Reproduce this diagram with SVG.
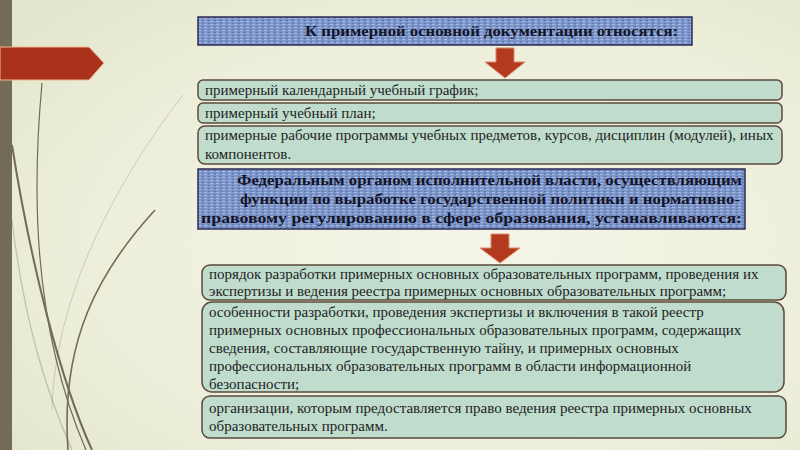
<svg xmlns="http://www.w3.org/2000/svg" width="800" height="450" viewBox="0 0 800 450">
<defs>
<radialGradient id="bg" cx="0.6" cy="0.55" r="0.75">
<stop offset="0" stop-color="#f4f5e8"/>
<stop offset="0.7" stop-color="#eceed9"/>
<stop offset="1" stop-color="#e3e6cc"/>
</radialGradient>
<pattern id="tex" width="6" height="3" patternUnits="userSpaceOnUse">
<rect width="6" height="3" fill="#7b94c9"/>
<rect x="0" y="0" width="3" height="1" fill="#a6b8dd"/>
<rect x="4" y="2" width="2" height="1" fill="#5f78b0"/>
</pattern>
<style>
.hdr{fill:url(#tex);stroke:#2d2b55;stroke-width:1.5}
.box{fill:#bfdccd;stroke:#5b4a3c;stroke-width:1.5}
.t{font-size:15px;fill:#1e1e1e}
.b{font-size:15px;font-weight:bold;fill:#141428}
.arr{fill:#b33a1e;stroke:#d98a6a;stroke-width:1}
.crv{fill:none;stroke:#736b55}
</style>
</defs>
<rect width="800" height="450" fill="url(#bg)"/>
<g id="decor">
<path class="crv" stroke-width="1.2" d="M42,83 C33,180 30,320 86,450"/>
<path class="crv" stroke-width="2" d="M12,145 C30,260 60,380 92,450"/>
<path class="crv" stroke-width="1.6" d="M155,210 C100,270 60,340 68,450"/>
<path class="crv" stroke-width="0.8" stroke-opacity="0.35" d="M183,95 C110,190 55,300 52,410"/>
<path class="crv" stroke-width="1.2" stroke-opacity="0.35" d="M12,220 C25,330 50,400 72,450"/>
<rect x="0" y="0" width="12" height="450" fill="#736b55"/>
<path d="M0,47 L89,47 L104,63 L89,80 L0,80 Z" fill="#aa321b" stroke="#f0b890" stroke-width="1"/>
</g>
<g font-family="Liberation Serif, Times New Roman, serif">
<g id="header1">
<rect class="hdr" x="198" y="17" width="494" height="28"/>
<text class="b" x="305" y="36" textLength="373" lengthAdjust="spacingAndGlyphs">К примерной основной документации относятся:</text>
</g>
<g id="connectors">
<path class="arr" d="M496,48 L514,48 L514,62 L525,62 L505,78 L485,62 L496,62 Z"/>
<path class="arr" d="M491,234 L509,234 L509,248 L520,248 L500,263 L480,248 L491,248 Z"/>
</g>
<g id="item1">
<rect class="box" x="198" y="80" width="584" height="20" rx="5"/>
<text class="t" x="205" y="95">примерный календарный учебный график;</text>
</g>
<g id="item2">
<rect class="box" x="198" y="103" width="584" height="20" rx="5"/>
<text class="t" x="205" y="118">примерный учебный план;</text>
</g>
<g id="item3">
<rect class="box" x="198" y="126" width="584" height="38" rx="7"/>
<text class="t" x="205" y="140">примерные рабочие программы учебных предметов, курсов, дисциплин (модулей), иных</text>
<text class="t" x="205" y="159">компонентов.</text>
</g>
<g id="header2">
<rect class="hdr" x="198" y="169" width="547" height="60"/>
<text class="b" x="237" y="185" textLength="505" lengthAdjust="spacingAndGlyphs">Федеральным органом исполнительной власти, осуществляющим</text>
<text class="b" x="240" y="204" textLength="500" lengthAdjust="spacingAndGlyphs">функции по выработке государственной политики и нормативно-</text>
<text class="b" x="201" y="223" textLength="541" lengthAdjust="spacingAndGlyphs">правовому регулированию в сфере образования, устанавливаются:</text>
</g>
<g id="item4">
<rect class="box" x="202" y="265" width="584" height="35" rx="8"/>
<text class="t" x="209" y="279">порядок разработки примерных основных образовательных программ, проведения их</text>
<text class="t" x="209" y="296">экспертизы и ведения реестра примерных основных образовательных программ;</text>
</g>
<g id="item5">
<rect class="box" x="202" y="302" width="582" height="90" rx="10"/>
<text class="t" x="209" y="317">особенности разработки, проведения экспертизы и включения в такой реестр</text>
<text class="t" x="209" y="335">примерных основных профессиональных образовательных программ, содержащих</text>
<text class="t" x="209" y="353">сведения, составляющие государственную тайну, и примерных основных</text>
<text class="t" x="209" y="371">профессиональных образовательных программ в области информационной</text>
<text class="t" x="209" y="389">безопасности;</text>
</g>
<g id="item6">
<rect class="box" x="202" y="396" width="584" height="42" rx="8"/>
<text class="t" x="209" y="413">организации, которым предоставляется право ведения реестра примерных основных</text>
<text class="t" x="209" y="431">образовательных программ.</text>
</g>
</g>
</svg>
